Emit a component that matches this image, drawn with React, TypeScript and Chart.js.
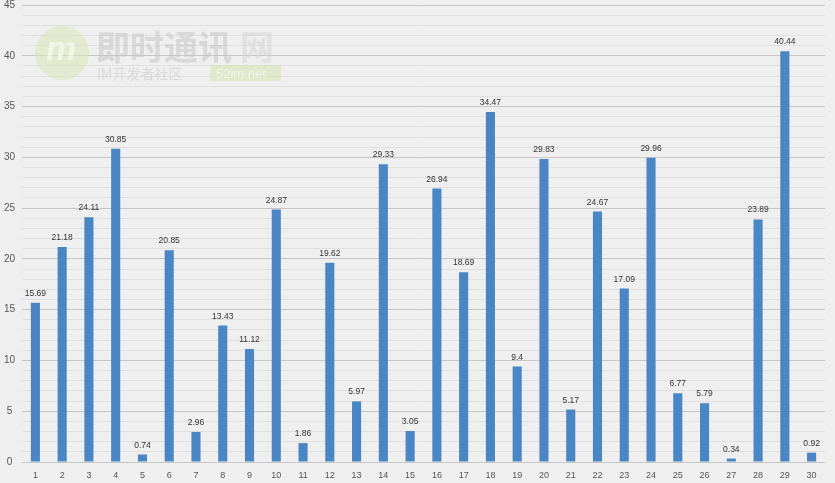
import React, { useEffect, useRef } from "react";
import { Chart, registerables } from "chart.js";

Chart.register(...registerables);

const categories: string[] = Array.from({ length: 30 }, (_, i) => String(i + 1));
const values: number[] = [
  15.69, 21.18, 24.11, 30.85, 0.74, 20.85, 2.96, 13.43, 11.12, 24.87,
  1.86, 19.62, 5.97, 29.33, 3.05, 26.94, 18.69, 34.47, 9.4, 29.83,
  5.17, 24.67, 17.09, 29.96, 6.77, 5.79, 0.34, 23.89, 40.44, 0.92,
];
const yMin = 0;
const yMax = 45;
const majorStep = 5;

const FONT = "'Liberation Sans', 'Noto Sans', sans-serif";

const bgPlugin = {
  id: "bg",
  beforeDraw(chart: any) {
    const { ctx, width, height } = chart;
    ctx.save();
    ctx.fillStyle = "#efefef";
    ctx.fillRect(0, 0, width, height);
    ctx.restore();
  },
};

const watermarkPlugin = {
  id: "watermark",
  beforeDatasetsDraw(chart: any) {
    const ctx = chart.ctx;
    ctx.save();
    ctx.globalAlpha = 0.55;
    ctx.fillStyle = "#d9e6b5";
    ctx.beginPath();
    ctx.arc(62, 53, 27, 0, Math.PI * 2);
    ctx.fill();
    ctx.fillStyle = "#ffffff";
    ctx.font = `italic bold 34px ${FONT}`;
    ctx.textAlign = "center";
    ctx.textBaseline = "middle";
    ctx.fillText("m", 61, 51);
    ctx.fillStyle = "#c4c4c4";
    ctx.font = `bold 34px 'Noto Sans CJK SC', sans-serif`;
    ctx.textAlign = "left";
    ctx.textBaseline = "alphabetic";
    ctx.fillText("即时通讯", 96, 60);
    ctx.fillStyle = "#d6d6d6";
    ctx.fillText("网", 240, 60);
    ctx.fillStyle = "#c8c8c8";
    ctx.font = `14px 'Noto Sans CJK SC', sans-serif`;
    ctx.fillText("IM开发者社区", 97, 79);
    ctx.fillStyle = "#d6e4b0";
    ctx.fillRect(210, 65, 71, 16);
    ctx.fillStyle = "#ffffff";
    ctx.font = `13px ${FONT}`;
    ctx.fillText("52im.net", 216, 78);
    ctx.restore();
  },
};

const labelPlugin = {
  id: "valueLabels",
  afterDatasetsDraw(chart: any) {
    const ctx = chart.ctx;
    const meta = chart.getDatasetMeta(0);
    ctx.save();
    ctx.fillStyle = "#333333";
    ctx.font = `8.5px ${FONT}`;
    ctx.textAlign = "center";
    ctx.textBaseline = "bottom";
    meta.data.forEach((bar: any, i: number) => {
      ctx.fillText(String(values[i]), bar.x, bar.y - 5);
    });
    ctx.restore();
  },
};

export default function App() {
  const ref = useRef<HTMLCanvasElement | null>(null);
  useEffect(() => {
    if (!ref.current) return;
    const chart = new Chart(ref.current, {
      type: "bar",
      data: {
        labels: categories,
        datasets: [
          {
            data: values,
            backgroundColor: "#4a86c4",
            borderWidth: 0,
            barPercentage: 0.34,
            categoryPercentage: 1,
          },
        ],
      },
      options: {
        responsive: false,
        animation: false,
        maintainAspectRatio: false,
        layout: { padding: { top: 5, right: 10, bottom: 0, left: 0 } },
        plugins: {
          legend: { display: false },
          tooltip: { enabled: false },
        },
        scales: {
          x: {
            grid: { display: false, drawTicks: false },
            border: { display: false },
            ticks: {
              color: "#555555",
              font: { size: 9, family: FONT },
              padding: 8,
              maxRotation: 0,
              autoSkip: false,
            },
            afterFit: (scale: any) => {
              scale.height = 21;
            },
          },
          y: {
            min: yMin,
            max: yMax,
            border: { display: false },
            grid: {
              drawTicks: false,
              tickLength: 0,
              color: (c: any) =>
                c.tick && c.tick.value % majorStep === 0 ? "#c6c6c6" : "#e0e0e0",
              lineWidth: 1,
            },
            ticks: {
              stepSize: 1,
              autoSkip: false,
              padding: 7,
              crossAlign: "center",
              color: "#555555",
              font: { size: 10, family: FONT },
              callback: (v: any) => (Number(v) % majorStep === 0 ? String(v) : ""),
            },
            afterFit: (scale: any) => {
              scale.width = 22;
              scale.paddingTop = 0;
              scale.paddingBottom = 0;
            },
          },
        },
      },
      plugins: [bgPlugin, watermarkPlugin, labelPlugin],
    });
    return () => chart.destroy();
  }, []);
  return (
    <div style={{ position: "fixed", left: 0, top: 0, width: 835, height: 483 }}>
      <canvas ref={ref} width={835} height={483} style={{ width: 835, height: 483 }} />
    </div>
  );
}
